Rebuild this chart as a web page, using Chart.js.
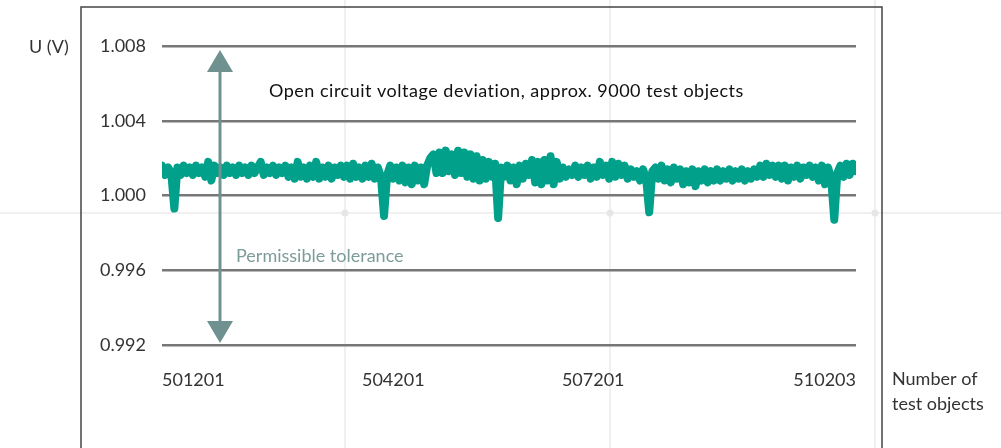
<!DOCTYPE html>
<html>
<head>
<meta charset="utf-8">
<title>Open circuit voltage deviation</title>
<script src="https://cdn.jsdelivr.net/npm/chart.js@4/dist/chart.umd.min.js"></script>
<style>
    html, body { margin: 0; padding: 0; background: #fff; }
    #wrap { position: relative; width: 1001px; height: 448px; }
</style>
</head>
<body>
<div id="wrap"><canvas id="chart"></canvas></div>
<script>
// Test object numbering (x axis)
const firstObject = 501201;
const sampleStep = 40;
const xTickValues = [501201, 504201, 507201, 510203];
const xTickAlign = ['left', 'center', 'right', 'right'];

// Y axis ticks (V)
const yTickValues = [0.992, 0.996, 1.000, 1.004, 1.008];

// Tolerance arrow
const toleranceUpper = 1.008;
const toleranceLower = 0.992;
const arrowObject = 501950;

// Open circuit voltage (one sample every 40 objects)
const voltage = [
    1.0016, 1.0011, 1.0015, 1.0012, 0.9993, 1.0015, 1.0011, 1.0016, 1.0012, 1.0015,
    1.0011, 1.0016, 1.0012, 1.0015, 1.0010, 1.0018, 1.0008, 1.0016, 1.0012, 1.0015,
    1.0011, 1.0016, 1.0012, 1.0015, 1.0011, 1.0016, 1.0012, 1.0015, 1.0011, 1.0016,
    1.0012, 1.0015, 1.0018, 1.0011, 1.0015, 1.0012, 1.0016, 1.0011, 1.0015, 1.0012,
    1.0016, 1.0010, 1.0015, 1.0009, 1.0018, 1.0010, 1.0015, 1.0009, 1.0016, 1.0010,
    1.0018, 1.0009, 1.0015, 1.0010, 1.0016, 1.0009, 1.0015, 1.0011, 1.0016, 1.0010,
    1.0016, 1.0009, 1.0017, 1.0010, 1.0015, 1.0009, 1.0016, 1.0010, 1.0017, 1.0009,
    1.0015, 1.0010, 0.9989, 1.0011, 1.0016, 1.0009, 1.0015, 1.0008, 1.0016, 1.0007,
    1.0015, 1.0006, 1.0016, 1.0008, 1.0015, 1.0006, 1.0016, 1.0020, 1.0022, 1.0012,
    1.0023, 1.0012, 1.0024, 1.0013, 1.0022, 1.0011, 1.0024, 1.0012, 1.0023, 1.0010,
    1.0022, 1.0009, 1.0021, 1.0008, 1.0019, 1.0009, 1.0018, 1.0010, 1.0017, 0.9988,
    1.0015, 1.0010, 1.0016, 1.0008, 1.0015, 1.0006, 1.0016, 1.0009, 1.0017, 1.0011,
    1.0019, 1.0007, 1.0018, 1.0006, 1.0019, 1.0008, 1.0021, 1.0006, 1.0018, 1.0009,
    1.0015, 1.0010, 1.0014, 1.0011, 1.0016, 1.0010, 1.0015, 1.0011, 1.0016, 1.0009,
    1.0015, 1.0010, 1.0018, 1.0011, 1.0016, 1.0009, 1.0018, 1.0010, 1.0017, 1.0011,
    1.0016, 1.0009, 1.0014, 1.0010, 1.0013, 1.0008, 1.0014, 1.0009, 0.9991, 1.0013,
    1.0015, 1.0009, 1.0016, 1.0008, 1.0014, 1.0007, 1.0015, 1.0009, 1.0014, 1.0006,
    1.0013, 1.0007, 1.0014, 1.0005, 1.0013, 1.0008, 1.0014, 1.0007, 1.0013, 1.0008,
    1.0014, 1.0008, 1.0013, 1.0009, 1.0014, 1.0008, 1.0013, 1.0009, 1.0014, 1.0008,
    1.0013, 1.0009, 1.0014, 1.0010, 1.0016, 1.0010, 1.0017, 1.0011, 1.0016, 1.0010,
    1.0016, 1.0009, 1.0016, 1.0008, 1.0015, 1.0010, 1.0016, 1.0009, 1.0015, 1.0011,
    1.0016, 1.0010, 1.0015, 1.0008, 1.0016, 1.0006, 1.0015, 1.0009, 0.9987, 1.0012,
    1.0016, 1.0010, 1.0017, 1.0011, 1.0017, 1.0013
];

const FONT = 'Lato, "Noto Sans", sans-serif';
const TEAL = '#00a08a';
const ARROW = '#6f9190';

const points = voltage.map((v, i) => ({ x: firstObject + i * sampleStep, y: v }));

// Faint background crosshair, frame, arrow and labels
const decorations = {
    id: 'decorations',
    beforeDraw(chart) {
        const ctx = chart.ctx;
        ctx.save();
        ctx.strokeStyle = '#ececec';
        ctx.lineWidth = 1.5;
        ctx.beginPath();
        ctx.moveTo(0, 213); ctx.lineTo(chart.width, 213);
        [345, 610, 875].forEach(x => { ctx.moveTo(x, 0); ctx.lineTo(x, chart.height); });
        ctx.stroke();
        ctx.fillStyle = '#e6e6e6';
        [345, 610, 875].forEach(x => {
            ctx.beginPath();
            ctx.arc(x, 213, 3.5, 0, Math.PI * 2);
            ctx.fill();
        });
        ctx.restore();
    },
    afterDatasetsDraw(chart) {
        const ctx = chart.ctx;
        const xs = chart.scales.x;
        const ys = chart.scales.y;
        ctx.save();

        // tolerance arrow
        const ax = Math.round(xs.getPixelForValue(arrowObject));
        const top = ys.getPixelForValue(toleranceUpper) + 4;
        const bottom = ys.getPixelForValue(toleranceLower) - 2;
        const headH = 22, headW = 13;
        ctx.strokeStyle = ARROW;
        ctx.fillStyle = ARROW;
        ctx.lineWidth = 3;
        ctx.beginPath();
        ctx.moveTo(ax, top + headH);
        ctx.lineTo(ax, bottom - headH);
        ctx.stroke();
        ctx.beginPath();
        ctx.moveTo(ax, top);
        ctx.lineTo(ax + headW, top + headH);
        ctx.lineTo(ax - headW, top + headH);
        ctx.closePath();
        ctx.fill();
        ctx.beginPath();
        ctx.moveTo(ax, bottom);
        ctx.lineTo(ax + headW, bottom - headH);
        ctx.lineTo(ax - headW, bottom - headH);
        ctx.closePath();
        ctx.fill();

        ctx.textBaseline = 'middle';
        ctx.textAlign = 'left';
        ctx.font = '18px ' + FONT;
        ctx.fillStyle = '#7c9c9a';
        ctx.fillText('Permissible tolerance', 236, 256);

        ctx.fillStyle = '#111';
        ctx.letterSpacing = '0.5px';
        ctx.fillText('Open circuit voltage deviation, approx. 9000 test objects', 269, 91);
        ctx.restore();
    },
    afterDraw(chart) {
        const ctx = chart.ctx;
        const xs = chart.scales.x;
        ctx.save();

        // frame
        ctx.strokeStyle = '#444';
        ctx.lineWidth = 1.5;
        ctx.beginPath();
        ctx.moveTo(81, chart.height);
        ctx.lineTo(81, 7);
        ctx.lineTo(882, 7);
        ctx.lineTo(882, chart.height);
        ctx.stroke();

        ctx.fillStyle = '#333';
        ctx.font = '18px ' + FONT;
        ctx.textBaseline = 'middle';

        // x tick labels
        xTickValues.forEach((v, i) => {
            ctx.textAlign = xTickAlign[i];
            ctx.fillText(String(v), xs.getPixelForValue(v), 380);
        });

        // axis titles
        ctx.textAlign = 'left';
        ctx.fillText('U (V)', 29, 47);
        ctx.fillText('Number of', 892, 379);
        ctx.fillText('test objects', 892, 404);
        ctx.restore();
    }
};

new Chart(document.getElementById('chart'), {
    type: 'line',
    data: {
        datasets: [{
            data: points,
            borderColor: TEAL,
            borderWidth: 8,
            borderCapStyle: 'round',
            borderJoinStyle: 'round',
            pointRadius: 0,
            tension: 0,
            fill: false
        }]
    },
    options: {
        responsive: true,
        maintainAspectRatio: false,
        animation: false,
        devicePixelRatio: 1,
        layout: { padding: { top: 46, right: 145, bottom: 103, left: 0 } },
        plugins: { legend: { display: false }, tooltip: { enabled: false } },
        scales: {
            x: {
                type: 'linear',
                min: 501201,
                max: 510203,
                display: false
            },
            y: {
                min: 0.992,
                max: 1.008,
                afterBuildTicks: s => { s.ticks = yTickValues.map(v => ({ value: v })); },
                afterFit: s => { s.width = 162; },
                border: { display: false },
                grid: { color: '#777', lineWidth: 2.5, drawTicks: false },
                ticks: {
                    padding: 16,
                    color: '#333',
                    font: { family: FONT, size: 18 },
                    callback: v => Number(v).toFixed(3)
                }
            }
        }
    },
    plugins: [decorations]
});
</script>
</body>
</html>
